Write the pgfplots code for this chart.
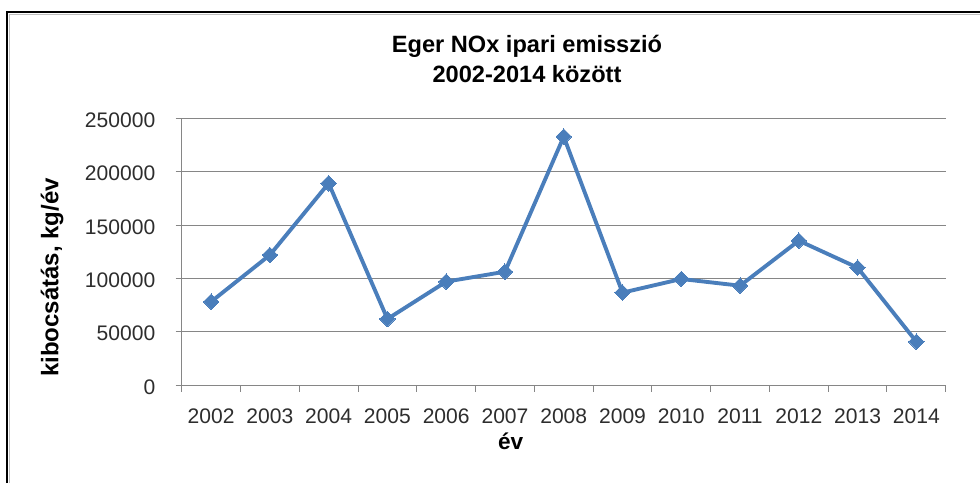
\documentclass[border=0pt]{standalone}
\usepackage{fontspec}
\setmainfont{Liberation Sans}
\usepackage{pgfplots}
\pgfplotsset{compat=1.18}
\definecolor{lineblue}{RGB}{74,126,187}
\definecolor{gridgray}{RGB}{134,134,134}
\definecolor{ticktext}{RGB}{45,45,45}
\begin{document}
\begin{tikzpicture}
\useasboundingbox (0,0) rectangle (735pt,362.25pt);
% chart frame (cropped on right and bottom)
\draw[line width=1.7pt,black] (5.4pt,0pt) -- (5.4pt,353.3pt) -- (740pt,353.3pt);
\draw[line width=0.75pt,black!25] (7.2pt,0pt) -- (7.2pt,351.6pt) -- (740pt,351.6pt);
\begin{axis}[
  at={(136.3pt,73.5pt)}, anchor=south west,
  scale only axis, width=573pt, height=200pt,
  xmin=-0.5, xmax=12.5, ymin=0, ymax=250000,
  axis x line*=bottom, axis y line*=left,
  axis line style={gridgray, line width=0.75pt},
  xtick={0,...,12},
  xticklabels={2002,2003,2004,2005,2006,2007,2008,2009,2010,2011,2012,2013,2014},
  minor xtick={-0.5,0.5,...,12.5},
  ytick={0,50000,100000,150000,200000,250000},
  yticklabels={0,50000,100000,150000,200000,250000},
  scaled y ticks=false,
  tick align=outside,
  major tick length=4.5pt,
  minor tick length=5pt,
  x tick style={draw=none},
  minor x tick style={draw=gridgray, line width=0.75pt},
  y tick style={draw=gridgray, line width=0.75pt},
  ymajorgrids,
  grid style={gridgray, line width=0.75pt},
  ticklabel style={font=\fontsize{15.8pt}{18pt}\selectfont, text=ticktext},
  xticklabel style={yshift=-9.5pt},
  yticklabel style={xshift=-11.8pt, yshift=-1.5pt},
  clip=false,
]
\addplot[color=lineblue, line width=2.9pt, mark=square*, mark size=4.1pt,
  mark options={rotate=45, fill=lineblue, draw=lineblue, line width=0pt}]
  coordinates {
  (0,78100) (1,121900) (2,189100) (3,61900) (4,96900) (5,106200) (6,232800)
  (7,86600) (8,99400) (9,93100) (10,135300) (11,110000) (12,40600)
  };
\end{axis}
\node[anchor=base, font=\bfseries\fontsize{17.7pt}{20pt}\selectfont] at (395.25pt,323pt) {Eger NOx ipari emisszió};
\node[anchor=base, font=\bfseries\fontsize{17.7pt}{20pt}\selectfont] at (395.25pt,300.75pt) {2002-2014 között};
\node[rotate=90, font=\bfseries\fontsize{18pt}{20pt}\selectfont] at (39pt,154.1pt) {kibocsátás, kg/év};
\node[anchor=base, font=\bfseries\fontsize{17pt}{20pt}\selectfont] at (383pt,25pt) {év};
\end{tikzpicture}
\end{document}
